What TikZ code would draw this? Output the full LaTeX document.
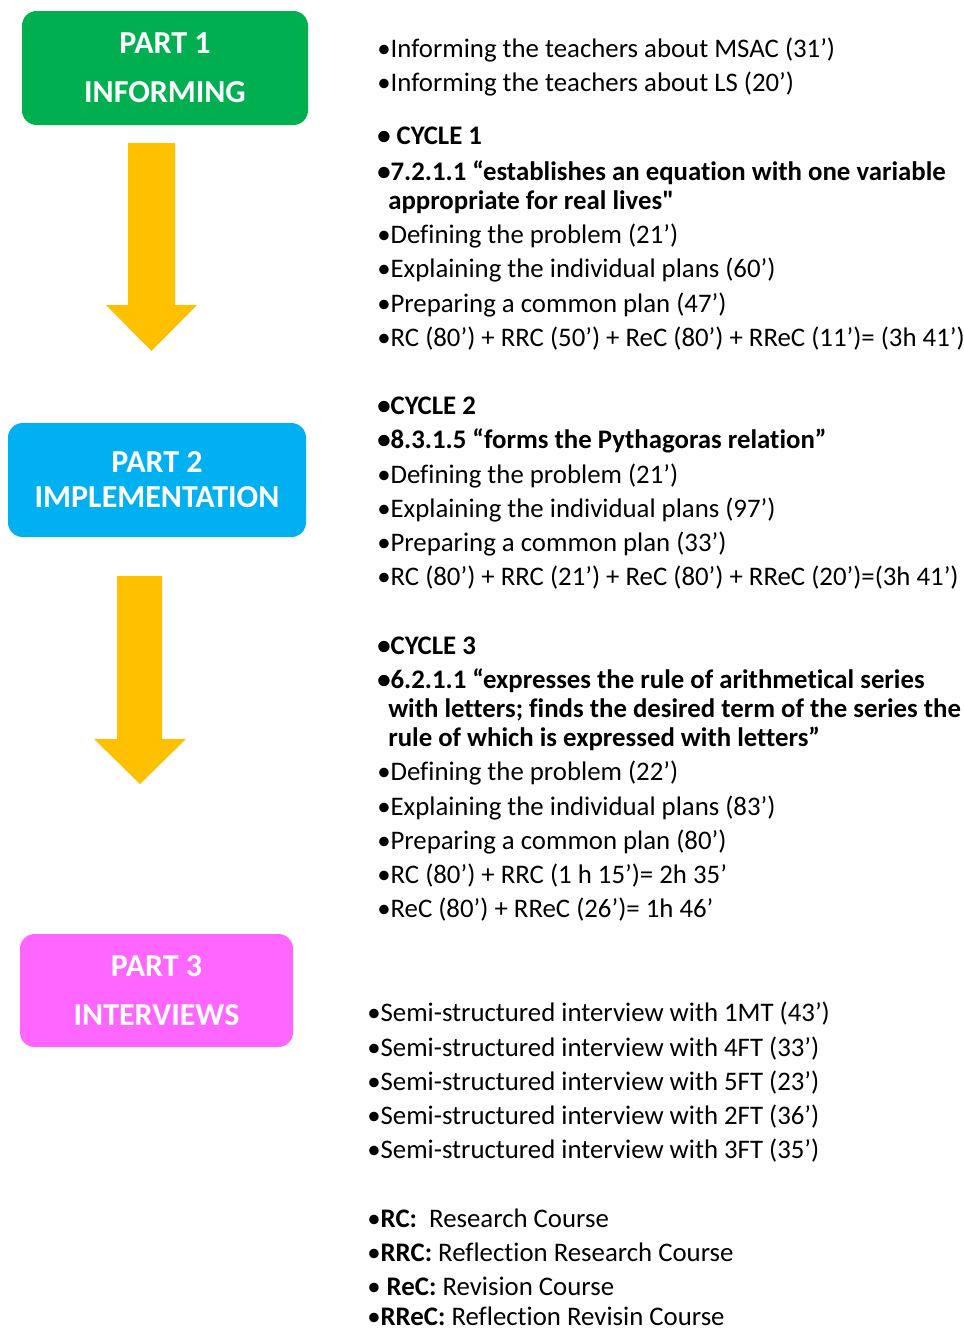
\documentclass[tikz,border=0pt]{standalone}
\usepackage{fontspec}
\setmainfont[Ligatures=NoCommon]{Carlito}
\definecolor{pgreen}{HTML}{00B050}
\definecolor{pblue}{HTML}{00B0F0}
\definecolor{ppink}{HTML}{FF66FF}
\definecolor{parrow}{HTML}{FFC000}
\begin{document}
\begin{tikzpicture}[x=0.75pt,y=-0.75pt,
  partbox/.style={rounded corners=11pt, minimum width=#1, text=white, align=center,
     font=\fontsize{24}{28.8}\selectfont\bfseries, inner sep=0pt},
  ln/.style={anchor=base west, inner sep=0pt, font=\fontsize{20.1}{24}\selectfont},
  bl/.style={ln, font=\fontsize{20.1}{24}\selectfont\bfseries},
  blockarrow/.style={fill=parrow, draw=none}]
\path[use as bounding box, fill=white] (0,0) rectangle (964,1329);

% part boxes
\node[partbox=286*0.75pt, minimum height=114*0.75pt, fill=pgreen] (p1) at (165,68)
  {PART 1\\[8pt]INFORMING};
\node[partbox=298*0.75pt, minimum height=114*0.75pt, fill=pblue] (p2) at (157,480)
  {PART 2\\[-2.5pt]IMPLEMENTATION};
\node[partbox=273*0.75pt, minimum height=113*0.75pt, fill=ppink] (p3) at (156.5,990.5)
  {PART 3\\[8pt]INTERVIEWS};

% block arrows
\fill[blockarrow] (128,143) -- (175,143) -- (175,305) -- (197,305) -- (151.5,351)
  -- (106,305) -- (128,305) -- cycle;
\fill[blockarrow] (117,576) -- (162,576) -- (162,739) -- (186,739) -- (140,784)
  -- (94,739) -- (117,739) -- cycle;

% informing
\node[ln] (t1) at (377,57) {•Informing the teachers about MSAC (31’)};
\node[ln] (t2) at (377,91) {•Informing the teachers about LS (20’)};

% cycle 1
\node[bl] (c1) at (377,144) {• CYCLE 1};
\node[bl] (c1a) at (377,180) {•7.2.1.1 “establishes an equation with one variable};
\node[bl] (c1b) at (388,209) {appropriate for real lives\textquotedbl};
\node[ln] (c1c) at (377,243) {•Defining the problem (21’)};
\node[ln] (c1d) at (377,277) {•Explaining the individual plans (60’)};
\node[ln] (c1e) at (377,312) {•Preparing a common plan (47’)};
\node[ln] (c1f) at (377,346) {•RC (80’) + RRC (50’) + ReC (80’) + RReC (11’)= (3h 41’)};

% cycle 2
\node[bl] (c2) at (377,414) {•CYCLE 2};
\node[bl] (c2a) at (377,448) {•8.3.1.5 “forms the Pythagoras relation”};
\node[ln] (c2c) at (377,483) {•Defining the problem (21’)};
\node[ln] (c2d) at (377,517) {•Explaining the individual plans (97’)};
\node[ln] (c2e) at (377,551) {•Preparing a common plan (33’)};
\node[ln] (c2f) at (377,585) {•RC (80’) + RRC (21’) + ReC (80’) + RReC (20’)=(3h 41’)};

% cycle 3
\node[bl] (c3) at (377,654) {•CYCLE 3};
\node[bl] (c3a) at (377,688) {•6.2.1.1 “expresses the rule of arithmetical series};
\node[bl] (c3b) at (388,717) {with letters; finds the desired term of the series the};
\node[bl] (c3g) at (388,746) {rule of which is expressed with letters”};
\node[ln] (c3c) at (377,780) {•Defining the problem (22’)};
\node[ln] (c3d) at (377,815) {•Explaining the individual plans (83’)};
\node[ln] (c3e) at (377,849) {•Preparing a common plan (80’)};
\node[ln] (c3f) at (377,883) {•RC (80’) + RRC (1 h 15’)= 2h 35’};
\node[ln] (c3h) at (377,917) {•ReC (80’) + RReC (26’)= 1h 46’};

% interviews
\node[ln] (i1) at (367,1021) {•Semi-structured interview with 1MT (43’)};
\node[ln] (i2) at (367,1056) {•Semi-structured interview with 4FT (33’)};
\node[ln] (i3) at (367,1090) {•Semi-structured interview with 5FT (23’)};
\node[ln] (i4) at (367,1124) {•Semi-structured interview with 2FT (36’)};
\node[ln] (i5) at (367,1158) {•Semi-structured interview with 3FT (35’)};

% legend
\node[ln] (l1) at (367,1227) {•\textbf{RC:}\ \ Research Course};
\node[ln] (l2) at (367,1261) {•\textbf{RRC:} Reflection Research Course};
\node[ln] (l3) at (367,1295) {• \textbf{ReC:} Revision Course};
\node[ln, text depth=0pt] (l4) at (367,1325) {•\textbf{RReC:} Reflection Revisin Course};
\end{tikzpicture}
\end{document}
